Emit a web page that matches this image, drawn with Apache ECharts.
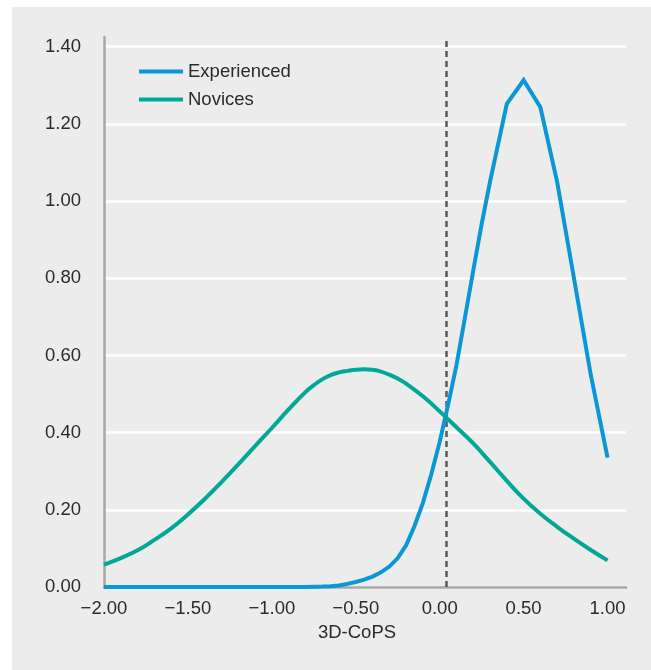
<!DOCTYPE html>
<html>
<head>
<meta charset="utf-8">
<script src="https://cdn.jsdelivr.net/npm/echarts@6/dist/echarts.min.js"></script>
<style>
html,body{margin:0;padding:0;background:#ffffff;}
#chart{width:651px;height:670px;}
</style>
</head>
<body>
<div id="chart"></div>
<script>
// ---- data ----
var seriesNames = ['Experienced', 'Novices'];

var experiencedX = [-2.0,-1.9,-1.8,-1.7,-1.6,-1.5,-1.4,-1.3,-1.2,-1.1,-1.0,-0.9,-0.8,-0.7,
  -0.65,-0.6,-0.55,-0.5,-0.45,-0.4,-0.35,-0.3,-0.25,-0.2,-0.15,-0.1,-0.05,0.0,0.05,0.1,0.15,0.2,0.25,0.3,
  0.4,0.5,0.6,0.7,0.8,0.9,1.0];
var experiencedY = [0,0,0,0,0,0,0,0,0,0,0,0,0,0.001,
  0.002,0.004,0.008,0.013,0.019,0.027,0.038,0.053,0.075,0.108,0.158,0.218,0.292,0.376,0.472,0.575,0.697,0.820,0.940,1.050,
  1.252,1.313,1.243,1.049,0.800,0.550,0.335];

var novicesX = [-2.0,-1.9,-1.8,-1.7,-1.6,-1.5,-1.4,-1.3,-1.2,-1.1,-1.0,-0.9,
  -0.8,-0.75,-0.7,-0.65,-0.6,-0.55,-0.5,-0.45,-0.4,-0.35,-0.3,-0.25,-0.2,-0.1,
  0.0,0.1,0.2,0.3,0.4,0.5,0.6,0.7,0.8,0.9,1.0];
var novicesY = [0.058,0.075,0.095,0.122,0.152,0.188,0.228,0.272,0.318,0.365,0.412,0.460,
  0.505,0.523,0.538,0.549,0.556,0.560,0.563,0.564,0.563,0.558,0.550,0.540,0.527,0.494,
  0.455,0.414,0.372,0.324,0.275,0.229,0.190,0.156,0.125,0.096,0.069];

var cutoffX = 0.04;          // dashed vertical reference line
var xAxisName = '3D-CoPS';

// ---- build ----
function pairs(xs, ys){ var out=[]; for (var i=0;i<xs.length;i++) out.push([xs[i], ys[i]]); return out; }
var FONT = '"Liberation Sans", Arial, sans-serif';
var TXT = '#2b2b2b';

var chart = echarts.init(document.getElementById('chart'), null, {renderer:'canvas'});
chart.setOption({
  animation: false,
  backgroundColor: 'transparent',
  graphic: [
    {type:'rect', z:-10, silent:true, shape:{x:12, y:7, width:639, height:663}, style:{fill:'#ebeceb'}},
    {type:'text', silent:true, x:357, y:633, z:10,
      style:{text:xAxisName, fill:TXT, font:'18.5px ' + FONT, textAlign:'center', textVerticalAlign:'middle'}}
  ],
  grid: {left:104, right:25, top:37, bottom:83, containLabel:false},
  legend: {
    data: seriesNames,
    orient: 'vertical',
    left: 134, top: 57,
    icon: 'rect',
    itemWidth: 44, itemHeight: 4,
    itemGap: 9,
    textStyle: {fontFamily: FONT, fontSize: 18.5, color: TXT, padding:[0,0,0,0]}
  },
  xAxis: {
    type: 'value', min: -2, max: 1.11, interval: 0.5,
    axisLine: {show:true, onZero:false, lineStyle:{color:'#a8a8a8', width:2.5}},
    axisTick: {show:false},
    splitLine: {show:false},
    axisLabel: {
      margin: 12, fontFamily: FONT, fontSize: 18.5, color: TXT,
      formatter: function(v){
        if (Math.abs(v*2 - Math.round(v*2)) > 1e-6 || v > 1.0001) return '';
        return v.toFixed(2).replace('-', '\u2212');
      }
    }
  },
  yAxis: {
    type: 'value', min: 0, max: 1.425, interval: 0.2,
    axisLine: {show:true, onZero:false, lineStyle:{color:'#a8a8a8', width:2.5}},
    axisTick: {show:false},
    splitLine: {show:true, showMaxLine:false, lineStyle:{color:'#ffffff', width:2.5}},
    axisLabel: {
      margin: 23, fontFamily: FONT, fontSize: 18.5, color: TXT,
      formatter: function(v){
        if (Math.abs(v*5 - Math.round(v*5)) > 1e-6 || v > 1.4001) return '';
        return v.toFixed(2);
      }
    }
  },
  series: [
    {
      name: seriesNames[0], type: 'line', data: pairs(experiencedX, experiencedY),
      showSymbol: false, smooth: false,
      lineStyle: {color:'#0a97d9', width:4, join:'miter'},
      itemStyle: {color:'#0a97d9'},
      z: 3,
      markLine: {
        silent: true, symbol: ['none','none'], label:{show:false}, z: 2,
        lineStyle: {color:'#595959', width:2.5, type:[6,4]},
        data: [{xAxis: cutoffX}]
      }
    },
    {
      name: seriesNames[1], type: 'line', data: pairs(novicesX, novicesY),
      showSymbol: false, smooth: 0.5,
      lineStyle: {color:'#00a897', width:4},
      itemStyle: {color:'#00a897'},
      z: 4
    }
  ]
});
</script>
</body>
</html>
